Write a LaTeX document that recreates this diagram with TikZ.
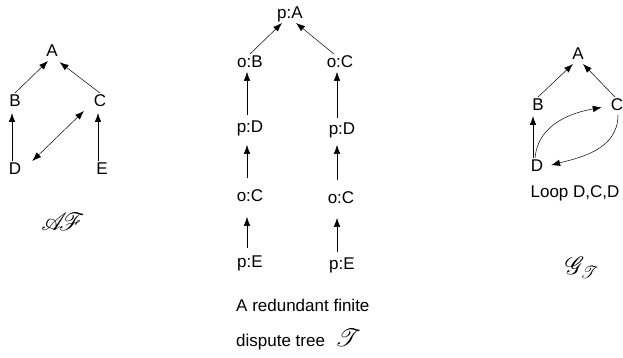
\documentclass[tikz,border=0pt]{standalone}
\usepackage{fontspec}
\setmainfont{Liberation Sans}
\usepackage{mathrsfs}
\usetikzlibrary{arrows.meta}

\begin{document}
\begin{tikzpicture}[x=1pt, y=-1pt,
    every node/.style={font=\fontsize{17}{19}\selectfont, inner sep=1pt, text height=12pt, text depth=3.5pt},
    arr/.style={-{Latex[length=9pt,width=6.5pt]}, line width=0.5pt},
    big/.style={font=\fontsize{27}{29}\selectfont, text height=, text depth=}]
    \useasboundingbox (0,0) rectangle (623,358);

    % the framework AF
    \node (A) at (52,52) {A};
    \node (B) at (15,102) {B};
    \node (C) at (100,102) {C};
    \node (D) at (15,170) {D};
    \node (E) at (102,170) {E};
    \draw[arr] (B.north) -- ([xshift=-4pt]A.south);
    \draw[arr, shorten >=2pt] (C.north) -- ([xshift=6pt]A.south);
    \draw[arr, <->, >={Latex[length=9pt,width=6.5pt]}] ([xshift=10pt]D.north east) -- ([xshift=-16pt]C.south);
    \draw[arr, line width=0.8pt, shorten >=2pt] ([xshift=-3pt]D.north) -- ([xshift=-3pt]B.south);
    \draw[arr, line width=0.8pt, shorten >=2pt] ([xshift=-4pt]E.north) -- ([xshift=-2pt]C.south);
    \node[big] (af) at (63,222) {$\mathscr{A}\!\!\mathscr{F}$};

    % the dispute tree
    \node (pA) at (290,14) {p:A};
    \node (oB) at (250,63) {o:B};
    \node (oC) at (340,63) {o:C};
    \node (pD) at (250,128) {p:D};
    \node (pDr) at (342,130) {p:D};
    \node (oCl) at (250,197) {o:C};
    \node (oCr) at (341,199) {o:C};
    \node (pE) at (250,263) {p:E};
    \node (pEr) at (342,265) {p:E};
    \draw[arr] (oB.north) -- ([xshift=-8pt]pA.south);
    \draw[arr] ([xshift=-6pt]oC.north) -- ([xshift=6pt]pA.south);
    \draw[arr, shorten <=4pt] ([xshift=-3pt]pD.north) -- ([xshift=-3pt]oB.south);
    \draw[arr, shorten <=10pt, shorten >=8pt] ([xshift=-3pt]oCl.north) -- ([xshift=-3pt]pD.south);
    \draw[arr, shorten <=6pt, shorten >=11pt] ([xshift=-3pt]pE.north) -- ([xshift=-3pt]oCl.south);
    \draw[arr, shorten <=3pt] ([xshift=-5pt]pDr.north) -- ([xshift=-3pt]oC.south);
    \draw[arr, shorten <=10pt, shorten >=6pt] ([xshift=-4pt]oCr.north) -- ([xshift=-5pt]pDr.south);
    \draw[arr, shorten <=4pt, shorten >=10pt] ([xshift=-5pt]pEr.north) -- ([xshift=-4pt]oCr.south);
    \node[anchor=west] (cap1) at (235,307) {A redundant finite};
    \node[anchor=west] (cap2) at (235,342) {dispute tree\hspace{10pt}{\fontsize{27}{29}\selectfont$\mathscr{T}$}};

    % the graph G_T
    \node (A2) at (578,55) {A};
    \node (B2) at (538,106) {B};
    \node (C2) at (617,106) {C};
    \node (D2) at (537,167) {D};
    \draw[arr] (B2.north) -- ([xshift=-5pt]A2.south);
    \draw[arr] ([xshift=-2pt]C2.north) -- ([xshift=5pt]A2.south);
    \draw[arr, line width=0.8pt, shorten >=1pt] ([xshift=-4pt]D2.north) -- ([xshift=-5pt]B2.south);
    \draw[arr, shorten >=8pt] ([xshift=-2pt]D2.north) to[out=85, in=190] (C2.west);
    \draw[arr, shorten >=7pt] ([xshift=1pt]C2.south) to[out=-90, in=15] (D2.east);
    \node (loop) at (575,193) {Loop D,C,D};
    \node[big] (gt) at (582,268) {$\mathscr{G}_{\mathscr{T}}$};
\end{tikzpicture}
\end{document}
